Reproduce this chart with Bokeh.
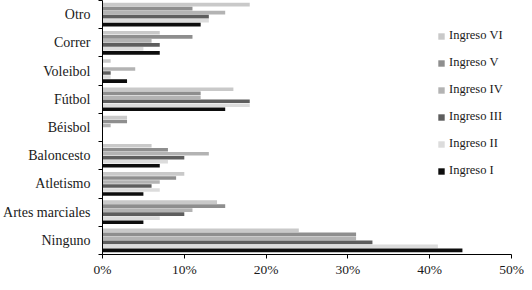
from bokeh.plotting import figure
from bokeh.models import ColumnDataSource, Range1d, FixedTicker, Legend, LegendItem
from bokeh.transform import dodge
from bokeh.embed import file_html
from bokeh.resources import INLINE

# Categories, top to bottom as shown
categories = ["Otro", "Correr", "Voleibol", "Fútbol", "Béisbol",
              "Baloncesto", "Atletismo", "Artes marciales", "Ninguno"]

series_names = ["Ingreso VI", "Ingreso V", "Ingreso IV", "Ingreso III", "Ingreso II", "Ingreso I"]
ingreso_vi  = [18, 7, 1, 16, 3, 6, 10, 14, 24]
ingreso_v   = [11, 11, 0, 12, 3, 8, 9, 15, 31]
ingreso_iv  = [15, 6, 4, 12, 1, 13, 7, 11, 31]
ingreso_iii = [13, 7, 1, 18, 0, 10, 6, 10, 33]
ingreso_ii  = [13, 5, 1, 18, 0, 8, 7, 7, 41]
ingreso_i   = [12, 7, 3, 15, 0, 7, 5, 5, 44]

x_ticks = [0, 10, 20, 30, 40, 50]
x_tick_labels = ["0%", "10%", "20%", "30%", "40%", "50%"]

colors = ["#c9c9c9", "#8e8e8e", "#b3b3b3", "#5e5e5e", "#dcdcdc", "#0d0d0d"]
series_values = [ingreso_vi, ingreso_v, ingreso_iv, ingreso_iii, ingreso_ii, ingreso_i]

n = len(categories)
# numeric positions: top category gets highest value
ypos = [n - 1 - i for i in range(n)]

data = {"y": ypos}
keys = ["vi", "v", "iv", "iii", "ii", "i"]
for k, vals in zip(keys, series_values):
    data[k] = vals
src = ColumnDataSource(data)

FONT = "'Liberation Serif', serif"
TXT = "#1a1a1a"

p = figure(width=524, height=282, output_backend="svg", toolbar_location=None,
           x_range=Range1d(0, 50), y_range=Range1d(-0.5, n - 0.5),
           min_border_left=92, min_border_right=13, min_border_top=0,
           min_border_bottom=28)
p.outline_line_color = None
p.xgrid.visible = False
p.ygrid.visible = False
p.background_fill_color = "white"
p.border_fill_color = "white"

step = 0.142
bar_h = 0.128
renderers = []
for j, (k, c) in enumerate(zip(keys, colors)):
    off = (2.5 - j) * step
    r = p.hbar(y=dodge("y", off), right=k, left=0, height=bar_h, source=src,
               fill_color=c, line_color=None)
    renderers.append(r)

# x axis
xa = p.xaxis[0]
xa.ticker = FixedTicker(ticks=x_ticks, minor_ticks=[])
xa.major_label_overrides = {t: l for t, l in zip(x_ticks, x_tick_labels)}
xa.major_tick_out = 4
xa.major_tick_in = 0
xa.major_label_standoff = 3
xa.axis_line_color = "black"
xa.major_tick_line_color = "black"
xa.major_label_text_font = FONT
xa.major_label_text_font_size = "13.5px"
xa.major_label_text_color = TXT

# y axis: labels at centers, ticks at boundaries (minor)
ya = p.yaxis[0]
ya.ticker = FixedTicker(ticks=ypos, minor_ticks=[i - 0.5 for i in range(n + 1)])
ya.major_label_overrides = {y: c for y, c in zip(ypos, categories)}
ya.major_tick_out = 0
ya.major_tick_in = 0
ya.minor_tick_out = 4
ya.minor_tick_in = 0
ya.minor_tick_line_color = "black"
ya.major_label_standoff = 8
ya.axis_line_color = "black"
ya.major_label_text_font = FONT
ya.major_label_text_font_size = "14px"
ya.major_label_text_color = TXT

legend = Legend(items=[LegendItem(label=nm, renderers=[r]) for nm, r in zip(series_names, renderers)],
                location=(335, 76), border_line_color=None, background_fill_alpha=0,
                glyph_width=8, glyph_height=8, label_height=10, spacing=12,
                padding=0, margin=0, label_standoff=4,
                label_text_font=FONT, label_text_font_size="12.5px", label_text_color=TXT)
p.add_layout(legend)

open("out.html", "w").write(file_html(p, INLINE))
